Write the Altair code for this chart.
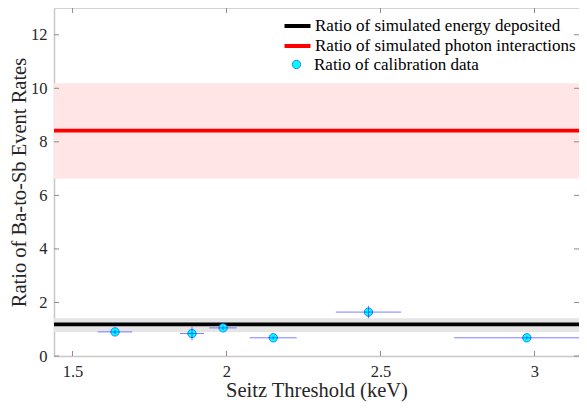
import altair as alt
import pandas as pd

# ---- data ----
sim_names = ["Ratio of simulated energy deposited", "Ratio of simulated photon interactions"]
sim_ratio = [1.18, 8.42]
sim_lo = [0.90, 6.63]
sim_hi = [1.41, 10.19]

cal_name = "Ratio of calibration data"
threshold = [1.638, 1.888, 1.989, 2.152, 2.461, 2.975]
threshold_lo = [1.582, 1.849, 1.944, 2.075, 2.355, 2.739]
threshold_hi = [1.694, 1.927, 2.033, 2.228, 2.567, 3.21]
cal_ratio = [0.90, 0.84, 1.05, 0.68, 1.64, 0.68]
cal_lo = [0.82, 0.58, 0.97, 0.62, 1.41, 0.62]
cal_hi = [0.98, 1.09, 1.13, 0.74, 1.88, 0.74]

x_ticks = [1.5, 2, 2.5, 3]
y_ticks = [0, 2, 4, 6, 8, 10, 12]
x_domain = [1.44, 3.1445]
y_domain = [0, 13]

W, H = 525, 348
FONT = "Liberation Serif"

sim = pd.DataFrame({"series": sim_names, "ratio": sim_ratio, "lo": sim_lo, "hi": sim_hi})
cal = pd.DataFrame({
    "series": [cal_name] * len(threshold),
    "thr": threshold, "thr_lo": threshold_lo, "thr_hi": threshold_hi,
    "ratio": cal_ratio, "lo": cal_lo, "hi": cal_hi,
})
xt = pd.DataFrame({"t": x_ticks})
yt = pd.DataFrame({"t": y_ticks})

xs = alt.Scale(domain=x_domain, nice=False, zero=False)
ys = alt.Scale(domain=y_domain, nice=False, zero=False)

x_axis = alt.Axis(values=x_ticks, format="~g", title="Seitz Threshold (keV)", titlePadding=1,
                  labelPadding=7, grid=False, ticks=False)
y_axis = alt.Axis(values=y_ticks, title="Ratio of Ba-to-Sb Event Rates", titlePadding=1,
                  labelPadding=7, grid=False, ticks=False)

band_dep = alt.Chart(sim).transform_filter(alt.datum.series == sim_names[0]).mark_rect(
    color="#e5e5e5").encode(y=alt.Y("lo:Q", scale=ys, axis=y_axis), y2="hi:Q")
band_pho = alt.Chart(sim).transform_filter(alt.datum.series == sim_names[1]).mark_rect(
    color="#ffe5e5").encode(y=alt.Y("lo:Q", scale=ys), y2="hi:Q")

lines = alt.Chart(sim).mark_rule(strokeWidth=3.7).encode(
    y=alt.Y("ratio:Q", scale=ys),
    color=alt.Color("series:N", scale=alt.Scale(domain=sim_names, range=["#000000", "#ff0000"]),
                    legend=alt.Legend(title=None, orient="none", legendX=235, legendY=9.5,
                                      symbolType="M-3,0H3", symbolSize=75, symbolStrokeWidth=4,
                                      labelFont=FONT, labelFontSize=17, labelColor="#000000",
                                      labelOffset=9, rowPadding=2, padding=0, labelLimit=400)),
)

points = alt.Chart(cal).mark_point(filled=True, shape="circle", size=70, stroke="#2060ff",
                                   strokeWidth=0.8, opacity=1).encode(
    x=alt.X("thr:Q", scale=xs, axis=x_axis),
    y=alt.Y("ratio:Q", scale=ys),
    fill=alt.Fill("series:N", scale=alt.Scale(domain=[cal_name], range=["#00ffff"]),
                  legend=alt.Legend(title=None, orient="none", legendX=234, legendY=48,
                                    symbolType="circle", symbolSize=70, symbolStrokeColor="#2060ff",
                                    symbolStrokeWidth=0.8, labelFont=FONT, labelFontSize=17,
                                    labelColor="#000000", labelOffset=9, padding=0, labelLimit=400)),
)

xerr = alt.Chart(cal).mark_rule(color="#0000ff", opacity=0.5, strokeWidth=1, clip=True).encode(
    x=alt.X("thr_lo:Q", scale=xs), x2="thr_hi:Q", y=alt.Y("ratio:Q", scale=ys))
yerr = alt.Chart(cal).mark_rule(color="#0000ff", opacity=0.5, strokeWidth=1, clip=True).encode(
    x=alt.X("thr:Q", scale=xs), y=alt.Y("lo:Q", scale=ys), y2="hi:Q")

TICK = "#8c8c8c"
xt_bot = alt.Chart(xt).mark_rule(color=TICK).encode(
    x=alt.X("t:Q", scale=xs), y=alt.value(H), y2=alt.value(H - 5))
xt_top = alt.Chart(xt).mark_rule(color=TICK).encode(
    x=alt.X("t:Q", scale=xs), y=alt.value(0), y2=alt.value(5))
yt_left = alt.Chart(yt).mark_rule(color=TICK).encode(
    y=alt.Y("t:Q", scale=ys), x=alt.value(0), x2=alt.value(5))
yt_right = alt.Chart(yt).mark_rule(color=TICK).encode(
    y=alt.Y("t:Q", scale=ys), x=alt.value(W - 5), x2=alt.value(W))

chart = alt.layer(
    band_pho, band_dep, lines, points, xerr, yerr, xt_bot, xt_top, yt_left, yt_right
).properties(
    width=W, height=H,
    autosize=alt.AutoSizeParams(type="none"),
    padding={"left": 46, "top": 0, "right": 0, "bottom": 50},
).resolve_legend(color="independent", fill="independent").configure_view(
    stroke="#d4d4d4", strokeWidth=1
).configure_axis(
    domainColor="#c8c8c8", domainWidth=1.5,
    labelFont=FONT, labelFontSize=16.5, labelColor="#262626",
    titleFont=FONT, titleFontSize=20.5, titleColor="#262626", titleFontWeight="normal",
)

chart.save("out.html", embed_options={"renderer": "svg", "actions": False})
